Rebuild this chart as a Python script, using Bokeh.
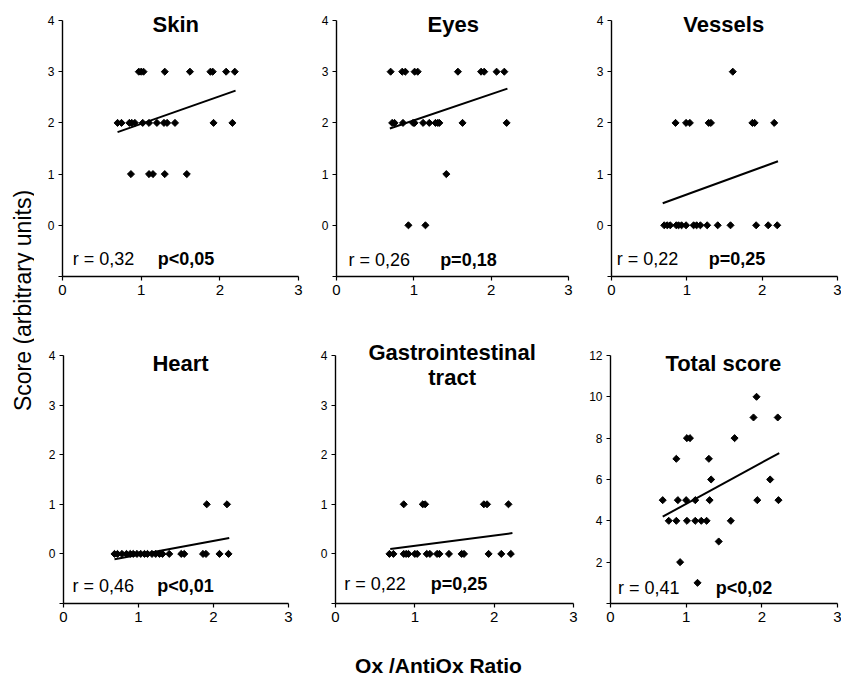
import math
from bokeh.plotting import figure
from bokeh.layouts import row, column
from bokeh.models import FixedTicker
from bokeh.core.properties import value
from bokeh.embed import file_html
from bokeh.resources import INLINE

FONT = "Liberation Sans"

# ---------------- data ----------------
titles = [["Skin"], ["Eyes"], ["Vessels"], ["Heart"], ["Gastrointestinal", "tract"], ["Total score"]]
r_labels = ["r = 0,32", "r = 0,26", "r = 0,22", "r = 0,46", "r = 0,22", "r = 0,41"]
p_labels = ["p<0,05", "p=0,18", "p=0,25", "p<0,01", "p=0,25", "p<0,02"]

x_ticks = [0, 1, 2, 3]
score_ticks = [-1, 0, 1, 2, 3, 4]
total_ticks = [0, 2, 4, 6, 8, 10, 12]

skin_x = [0.97, 1.00, 1.03, 1.30, 1.62, 1.88, 1.91, 2.08, 2.19,
          0.70, 0.75, 0.85, 0.88, 0.92, 1.02, 1.10, 1.20, 1.29, 1.33, 1.43, 1.92, 2.16,
          0.87, 1.10, 1.15, 1.30, 1.58]
skin_y = [3, 3, 3, 3, 3, 3, 3, 3, 3,
          2, 2, 2, 2, 2, 2, 2, 2, 2, 2, 2, 2, 2,
          1, 1, 1, 1, 1]

eyes_x = [0.70, 0.85, 0.89, 1.01, 1.05, 1.57, 1.87, 1.91, 2.07, 2.17,
          0.72, 0.75, 0.86, 0.99, 1.01, 1.12, 1.20, 1.28, 1.31, 1.33, 1.63, 2.20,
          1.42,
          0.93, 1.15]
eyes_y = [3, 3, 3, 3, 3, 3, 3, 3, 3, 3,
          2, 2, 2, 2, 2, 2, 2, 2, 2, 2, 2, 2,
          1,
          0, 0]

vessels_x = [1.61,
             0.85, 0.99, 1.04, 1.29, 1.32, 1.87, 1.90, 2.16,
             0.70, 0.74, 0.78, 0.86, 0.89, 0.93, 0.99, 1.09, 1.13, 1.18, 1.27, 1.41, 1.58,
             1.92, 2.08, 2.20]
vessels_y = [3,
             2, 2, 2, 2, 2, 2, 2, 2,
             0, 0, 0, 0, 0, 0, 0, 0, 0, 0, 0, 0, 0,
             0, 0, 0]

heart_x = [1.91, 2.18,
           0.68, 0.72, 0.78, 0.84, 0.89, 0.93, 0.98, 1.03, 1.08, 1.12, 1.18, 1.23, 1.28, 1.32,
           1.41, 1.57, 1.61, 1.86, 1.90, 2.08, 2.20]
heart_y = [1, 1,
           0, 0, 0, 0, 0, 0, 0, 0, 0, 0, 0, 0, 0, 0,
           0, 0, 0, 0, 0, 0, 0]

gi_x = [0.86, 1.10, 1.13, 1.87, 1.91, 2.18,
        0.68, 0.73, 0.86, 0.89, 0.92, 1.00, 1.03, 1.15, 1.19, 1.28, 1.31, 1.43,
        1.59, 1.62, 1.93, 2.09, 2.21]
gi_y = [1, 1, 1, 1, 1, 1,
        0, 0, 0, 0, 0, 0, 0, 0, 0, 0, 0, 0,
        0, 0, 0, 0, 0]

total_x = [0.69, 0.77, 0.87, 0.87, 0.89, 0.92, 1.00, 1.01, 1.01, 1.05, 1.12, 1.12, 1.20, 1.27,
           1.15, 1.30, 1.33, 1.31, 1.43, 1.59, 1.64, 1.89, 1.93, 1.94, 2.11, 2.21, 2.22]
total_y = [5, 4, 4, 7, 5, 2, 5, 4, 8, 8, 5, 4, 4, 4,
           1, 7, 6, 5, 3, 4, 8, 9, 10, 5, 6, 9, 5]

# regression lines (end points)
skin_fit_x, skin_fit_y = [0.70, 2.20], [1.82, 2.63]
eyes_fit_x, eyes_fit_y = [0.69, 2.21], [1.89, 2.67]
vessels_fit_x, vessels_fit_y = [0.68, 2.21], [0.43, 1.25]
heart_fit_x, heart_fit_y = [0.68, 2.21], [-0.11, 0.32]
gi_fit_x, gi_fit_y = [0.69, 2.23], [0.10, 0.42]
total_fit_x, total_fit_y = [0.69, 2.23], [4.20, 7.28]

series = [
    (skin_x, skin_y, skin_fit_x, skin_fit_y),
    (eyes_x, eyes_y, eyes_fit_x, eyes_fit_y),
    (vessels_x, vessels_y, vessels_fit_x, vessels_fit_y),
    (heart_x, heart_y, heart_fit_x, heart_fit_y),
    (gi_x, gi_y, gi_fit_x, gi_fit_y),
    (total_x, total_y, total_fit_x, total_fit_y),
]

# ---------------- layout (pixels / label placement) ----------------
# (frame_w, frame_h, left, right, top, bottom, y_lo, y_hi, y_top_bound, ticks,
#  title_x, title_ys, r_x, p_x, label_y)
layout_cfg = [
    (236, 266, 28, 8, 10, 62, -1, 4.195, 4, score_ticks, 1.44, [3.93], 0.13, 1.21, -0.66),
    (232, 266, 30, 10, 10, 62, -1, 4.195, 4, score_ticks, 1.51, [3.93], 0.155, 1.34, -0.68),
    (226, 266, 33, 4, 10, 62, -1, 4.195, 4, score_ticks, 1.49, [3.93], 0.07, 1.29, -0.66),
    (225, 265, 29, 15, 0, 30, -1, 4.343, 4, score_ticks, 1.56, [3.84], 0.12, 1.25, -0.64),
    (238, 265, 32, 5, 0, 30, -1, 4.343, 4, score_ticks, 1.47, [4.06, 3.56], 0.11, 1.20, -0.60),
    (227, 265, 32, 4, 0, 30, 0, 12.82, 12, total_ticks, 1.49, [11.61], 0.10, 1.39, 0.77),
]


def make_panel(i):
    xs, ys, fx, fy = series[i]
    (fw, fh, bl, br, bt, bb, ylo, yhi, ytop, yt,
     tx, tys, rx, px, ly) = layout_cfg[i]
    p = figure(width=bl + fw + br, height=bt + fh + bb,
               frame_width=fw, frame_height=fh,
               x_range=(0, 3), y_range=(ylo, yhi), title=None,
               min_border_left=bl, min_border_right=br,
               min_border_top=bt, min_border_bottom=bb,
               output_backend="svg", toolbar_location=None)
    p.xgrid.visible = False
    p.ygrid.visible = False
    p.outline_line_color = None
    p.background_fill_color = "white"
    p.border_fill_color = "white"

    p.xaxis.bounds = (0, 3)
    p.yaxis.bounds = (ylo, ytop)
    p.xaxis.ticker = FixedTicker(ticks=x_ticks)
    p.yaxis.ticker = FixedTicker(ticks=yt)
    p.yaxis.major_label_overrides = {ylo: ""}
    for ax in (p.xaxis[0], p.yaxis[0]):
        ax.axis_line_color = "black"
        ax.axis_line_width = 1.4
        ax.major_tick_line_color = "black"
        ax.major_tick_line_width = 1.2
        ax.major_tick_out = 4
        ax.major_tick_in = 0
        ax.minor_tick_line_color = None
        ax.major_label_text_color = "black"
        ax.major_label_text_font = FONT
    p.xaxis.major_label_text_font_size = "15px"
    p.xaxis.major_label_standoff = 4
    p.yaxis.major_label_text_font_size = "12px"
    p.yaxis.major_label_standoff = 4

    p.scatter(xs, ys, marker="square", angle=math.pi / 4, size=5,
              fill_color="black", line_color="black")
    p.line(fx, fy, line_width=2, line_color="black")

    for line_text, ty in zip(titles[i], tys):
        p.text(x=[tx], y=[ty], text=[line_text], text_font=value(FONT),
               text_font_style="bold", text_font_size="22px",
               text_align="center", text_baseline="middle", text_color="black")
    p.text(x=[rx], y=[ly], text=[r_labels[i]], text_font=value(FONT),
           text_font_size="18px", text_align="left", text_baseline="middle",
           text_color="black")
    p.text(x=[px], y=[ly], text=[p_labels[i]], text_font=value(FONT),
           text_font_style="bold", text_font_size="18px", text_align="left",
           text_baseline="middle", text_color="black")
    return p


panels = [make_panel(i) for i in range(6)]

ROWS_H = 338 + 295

# y label strip
ylab = figure(width=34, height=ROWS_H, frame_width=34, frame_height=ROWS_H,
              x_range=(0, 34), y_range=(0, ROWS_H), title=None,
              x_axis_type=None, y_axis_type=None,
              min_border_left=0, min_border_right=0, min_border_top=0, min_border_bottom=0,
              output_backend="svg", toolbar_location=None)
ylab.xgrid.visible = False
ylab.ygrid.visible = False
ylab.outline_line_color = None
ylab.text(x=[22], y=[ROWS_H - 300], text=["Score (arbitrary units)"], angle=math.pi / 2,
          text_font=value(FONT), text_font_size="23px", text_align="center",
          text_baseline="middle", text_color="black")

# x label strip
XLAB_H = 44
xlab = figure(width=841, height=XLAB_H, frame_width=841, frame_height=XLAB_H,
              x_range=(0, 841), y_range=(0, XLAB_H), title=None,
              x_axis_type=None, y_axis_type=None,
              min_border_left=0, min_border_right=0, min_border_top=0, min_border_bottom=0,
              output_backend="svg", toolbar_location=None)
xlab.xgrid.visible = False
xlab.ygrid.visible = False
xlab.outline_line_color = None
xlab.text(x=[438], y=[12], text=["Ox /AntiOx Ratio"], text_font=value(FONT),
          text_font_style="bold", text_font_size="21px", text_align="center",
          text_baseline="middle", text_color="black")

grid = column(row(panels[0], panels[1], panels[2]), row(panels[3], panels[4], panels[5]))
page = column(row(ylab, grid), xlab)

open("out.html", "w").write(file_html(page, INLINE))
